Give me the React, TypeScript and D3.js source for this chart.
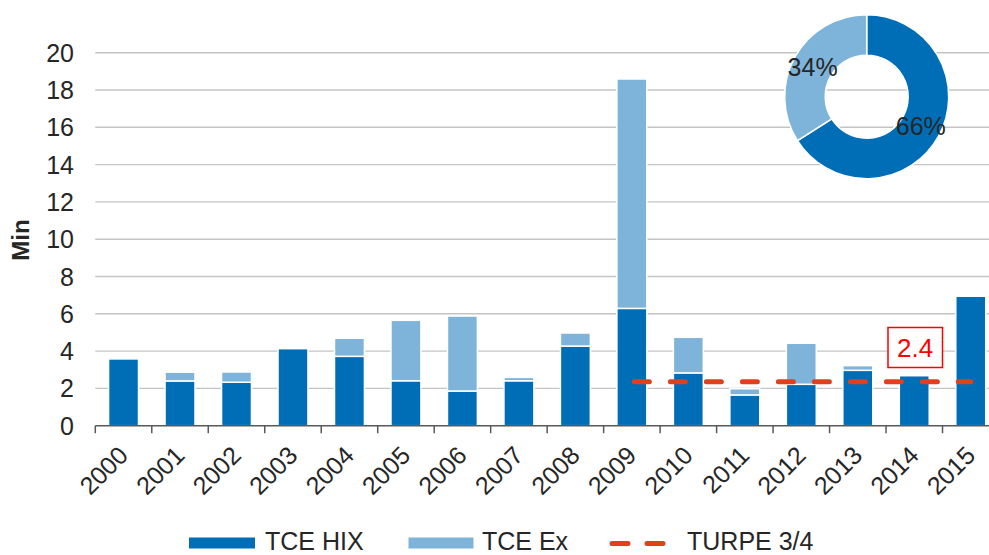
import React from "react";
import * as d3 from "d3";

const years = ["2000","2001","2002","2003","2004","2005","2006","2007","2008","2009","2010","2011","2012","2013","2014","2015"];
const tceHix = [3.58, 2.4, 2.33, 4.13, 3.72, 2.41, 1.86, 2.41, 4.27, 6.29, 2.83, 1.65, 2.22, 2.97, 2.68, 6.94];
const tceEx = [0, 0.47, 0.55, 0, 0.97, 3.24, 4.02, 0.18, 0.7, 12.3, 1.91, 0.33, 2.2, 0.25, 0, 0];
const turpeYears = ["2009","2010","2011","2012","2013","2014","2015"];
const turpeValue = 2.35;
const turpeLabel = "2.4";
const yTicks = [0, 2, 4, 6, 8, 10, 12, 14, 16, 18, 20];
const shareLabels = ["66%", "34%"];
const shareValues = [66, 34];
const legendLabels = ["TCE HIX", "TCE Ex", "TURPE 3/4"];

const DARK = "#006eb7";
const LIGHT = "#7fb4da";
const RED = "#e0401c";
const TEXT = "#262626";
const FONT = "'Liberation Sans', Arial, sans-serif";

export default function App() {
  const W = 989, H = 555;
  const x0 = 95.3, x1 = 999;
  const y = d3.scaleLinear().domain([0, 20]).range([425.7, 52.7]);
  const x = d3.scaleBand<string>().domain(years).range([x0, x1]).paddingInner(0.47).paddingOuter(0.235);
  const step = x.step();
  const bw = x.bandwidth();
  const stacked = years.map((yr, i) => ({ yr, hix: tceHix[i], ex: tceEx[i] }));

  const turpeLine = d3.line<string>().x(d => (x(d) as number) + bw / 2).y(() => y(turpeValue));

  const pie = d3.pie<number>().sort(null).startAngle(0).endAngle(2 * Math.PI);
  const arcs = pie(shareValues);
  const arc = d3.arc<d3.PieArcDatum<number>>().innerRadius(41.5).outerRadius(82);
  const cx = 866.7, cy = 96.7;
  const donutColors = [DARK, LIGHT];

  return (
    <svg width={W} height={H} style={{ position: "absolute", left: 0, top: 0, background: "#fff" }} fontFamily={FONT}>
      {/* gridlines */}
      {yTicks.filter(t => t > 0).map(t => (
        <line key={t} x1={x0} x2={x1} y1={y(t)} y2={y(t)} stroke="#c4c4c4" strokeWidth={1.4} />
      ))}
      {/* y tick labels */}
      {yTicks.map(t => (
        <text key={t} x={74} y={y(t)} dy="0.36em" textAnchor="end" fontSize={25} fill={TEXT}>{t}</text>
      ))}
      <text transform={`translate(29,240) rotate(-90)`} textAnchor="middle" fontSize={24} fontWeight="bold" fill={TEXT}>Min</text>
      {/* bars */}
      {stacked.map(d => {
        const bx = x(d.yr) as number;
        return (
          <g key={d.yr}>
            <rect x={bx} y={y(d.hix)} width={bw} height={y(0) - y(d.hix)} fill={DARK} stroke="#fff" strokeWidth={1.5} />
            {d.ex > 0 && (
              <rect x={bx} y={y(d.hix + d.ex)} width={bw} height={y(d.hix) - y(d.hix + d.ex)} fill={LIGHT} stroke="#fff" strokeWidth={1.5} />
            )}
          </g>
        );
      })}
      {/* axis */}
      <line x1={x0} x2={x1} y1={y(0)} y2={y(0)} stroke="#595959" strokeWidth={1.5} />
      {years.map((yr, i) => (
        <line key={yr} x1={x0 + i * step} x2={x0 + i * step} y1={y(0)} y2={y(0) + 7.5} stroke="#595959" strokeWidth={1.5} />
      ))}
      {years.map(yr => (
        <text key={yr} transform={`translate(${(x(yr) as number) + bw / 2 + 6},${457}) rotate(-45)`} textAnchor="end" fontSize={25} fill={TEXT}>{yr}</text>
      ))}
      {/* TURPE line */}
      <path d={turpeLine(turpeYears) || ""} fill="none" stroke={RED} strokeWidth={5} strokeDasharray="15 21" strokeLinecap="round" strokeDashoffset={-2.5} />
      {/* label box */}
      <rect x={888} y={327.5} width={54.5} height={40} fill="#fff" stroke="#ff0000" strokeWidth={1.5} />
      <text x={915.2} y={347.5} dy="0.36em" textAnchor="middle" fontSize={26} fill="#ff0000">{turpeLabel}</text>
      {/* donut */}
      <g transform={`translate(${cx},${cy})`}>
        {arcs.map((a, i) => (
          <path key={i} d={arc(a) || ""} fill={donutColors[i]} stroke="#fff" strokeWidth={1.5} />
        ))}
        {arcs.map((a, i) => {
          const [px, py] = arc.centroid(a);
          return (
            <text key={"l" + i} x={px} y={py} dy="0.36em" textAnchor="middle" fontSize={25} fill={TEXT}>{shareLabels[i]}</text>
          );
        })}
      </g>
      {/* legend */}
      <rect x={189} y={537.5} width={66} height={11} fill={DARK} />
      <text x={265} y={549.5} fontSize={25} fill={TEXT}>{legendLabels[0]}</text>
      <rect x={408.5} y={537.5} width={65} height={11} fill={LIGHT} />
      <text x={482} y={549.5} fontSize={25} fill={TEXT}>{legendLabels[1]}</text>
      <line x1={612} x2={628} y1={543.5} y2={543.5} stroke={RED} strokeWidth={5} strokeLinecap="round" />
      <line x1={647} x2={663} y1={543.5} y2={543.5} stroke={RED} strokeWidth={5} strokeLinecap="round" />
      <text x={687} y={549.5} fontSize={25} fill={TEXT}>{legendLabels[2]}</text>
    </svg>
  );
}
